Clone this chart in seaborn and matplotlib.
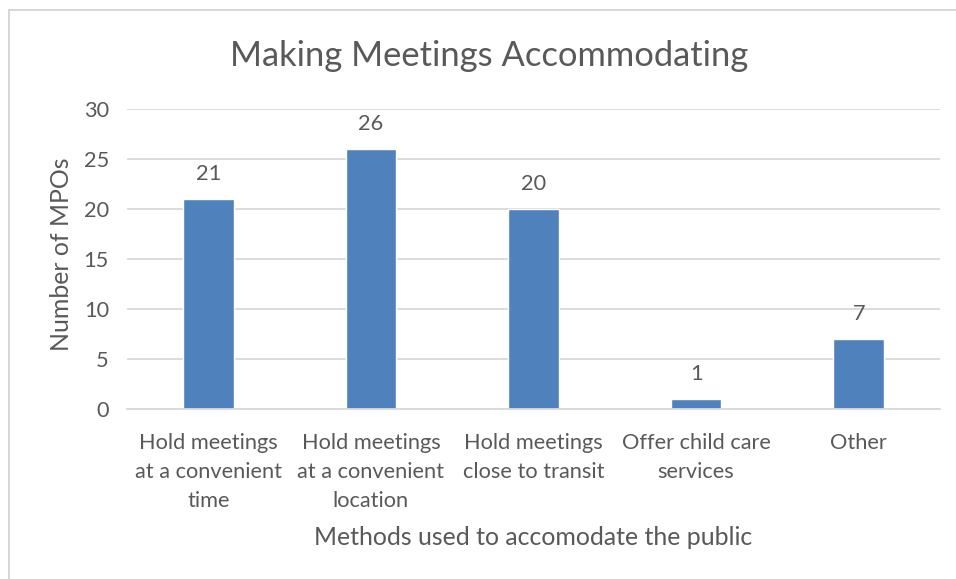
import matplotlib
matplotlib.use("Agg")
import matplotlib.pyplot as plt
import seaborn as sns
from matplotlib.lines import Line2D

# Chart data
methods = [
    "Hold meetings\nat a convenient\ntime",
    "Hold meetings\nat a convenient\nlocation",
    "Hold meetings\nclose to transit",
    "Offer child care\nservices",
    "Other",
]
num_mpos = [21, 26, 20, 1, 7]

sns.set_theme(style="white")
plt.rcParams["font.family"] = ["Lato", "DejaVu Sans"]
text_color = "#595959"
grid_color = "#d9d9d9"
bar_color = "#4f81bd"

fig = plt.figure(figsize=(9.56, 5.79), dpi=100)
ax = fig.add_axes([127 / 956, 1 - 409 / 579, 813 / 956, 300 / 579])

sns.barplot(x=methods, y=num_mpos, color=bar_color, width=0.31, saturation=1, ax=ax)

ax.set_ylim(0, 30)
ax.set_yticks(range(0, 31, 5))
ax.yaxis.grid(True, color=grid_color, linewidth=1.3)
ax.set_axisbelow(True)
for side in ["top", "right", "left"]:
    ax.spines[side].set_visible(False)
ax.spines["bottom"].set_color(grid_color)
ax.spines["bottom"].set_linewidth(1.3)
ax.tick_params(axis="both", length=0, colors=text_color, labelsize=15.7)
ax.tick_params(axis="y", pad=13)
ax.tick_params(axis="x", pad=17)
for lbl in ax.get_xticklabels():
    lbl.set_linespacing(1.56)

for i, v in enumerate(num_mpos):
    ax.annotate(str(v), (i, v), xytext=(0, 11), textcoords="offset points",
                ha="center", va="bottom", color=text_color, fontsize=15.7)

ax.set_ylabel("Number of MPOs", color=text_color, fontsize=17.9)
ax.set_xlabel("Methods used to accomodate the public", color=text_color, fontsize=17.9)
ax.yaxis.set_label_coords(-0.080, 0.515)
ax.yaxis.label.set_va("center")
ax.xaxis.set_label_coords(0.5, -0.427)
ax.xaxis.label.set_va("center")

fig.text(489 / 956, 1 - 56 / 579, "Making Meetings Accommodating", ha="center", va="center",
         color=text_color, fontsize=24.8)

# chart frame (left and top edges visible)
fig.add_artist(Line2D([9 / 956, 9 / 956], [0, 1 - 10 / 579], color="#d0d0d0", linewidth=1.2))
fig.add_artist(Line2D([9 / 956, 1], [1 - 10 / 579, 1 - 10 / 579], color="#d0d0d0", linewidth=1.2))

fig.savefig("out.png", dpi=100)
